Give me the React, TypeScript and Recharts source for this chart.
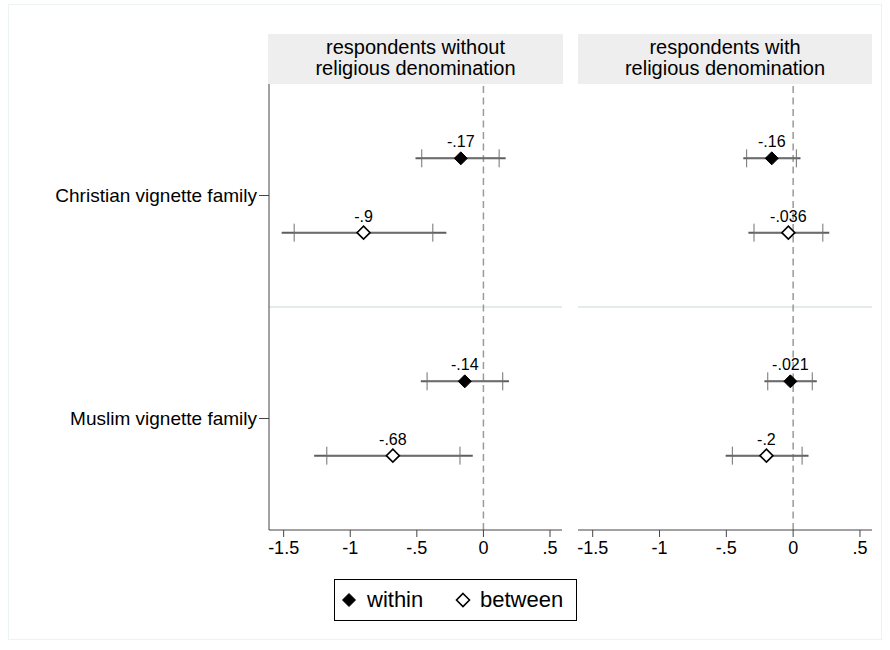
import React from 'react';
import { ScatterChart, Scatter, XAxis, YAxis, ErrorBar, ReferenceLine } from 'recharts';

// categories and panels
const categories = ['Christian vignette family', 'Muslim vignette family'];
const panelTitles = [
  ['respondents without', 'religious denomination'],
  ['respondents with', 'religious denomination'],
];
const seriesNames = ['within', 'between'];

const xTicks = [-1.5, -1, -0.5, 0, 0.5];
const xTickLabels = ['-1.5', '-1', '-.5', '0', '.5'];

// panel 1: respondents without religious denomination
const withoutWithinEst = [-0.17, -0.14];
const withoutWithinLabels = ['-.17', '-.14'];
const withoutWithinLo95 = [-0.51, -0.47];
const withoutWithinHi95 = [0.167, 0.192];
const withoutWithinLo90 = [-0.463, -0.423];
const withoutWithinHi90 = [0.118, 0.145];

const withoutBetweenEst = [-0.9, -0.68];
const withoutBetweenLabels = ['-.9', '-.68'];
const withoutBetweenLo95 = [-1.515, -1.271];
const withoutBetweenHi95 = [-0.278, -0.08];
const withoutBetweenLo90 = [-1.421, -1.176];
const withoutBetweenHi90 = [-0.38, -0.176];

// panel 2: respondents with religious denomination
const withWithinEst = [-0.16, -0.021];
const withWithinLabels = ['-.16', '-.021'];
const withWithinLo95 = [-0.373, -0.215];
const withWithinHi95 = [0.055, 0.177];
const withWithinLo90 = [-0.348, -0.19];
const withWithinHi90 = [0.024, 0.143];

const withBetweenEst = [-0.036, -0.2];
const withBetweenLabels = ['-.036', '-.2'];
const withBetweenLo95 = [-0.335, -0.505];
const withBetweenHi95 = [0.27, 0.115];
const withBetweenLo90 = [-0.293, -0.455];
const withBetweenHi90 = [0.222, 0.067];

const FONT = '"Liberation Sans", Arial, Helvetica, sans-serif';
const X_DOMAIN = [-1.61, 0.59];
const Y_MAX = categories.length * 3;
const yTicks = categories.map((_, i) => i * 3 + 1.5);

const buildRows = (
  est: number[],
  labels: string[],
  lo95: number[],
  hi95: number[],
  lo90: number[],
  hi90: number[],
  seriesIndex: number
) =>
  est.map((v, i) => ({
    x: v,
    y: i * 3 + 1 + seriesIndex,
    label: labels[i],
    ci95: [v - lo95[i], hi95[i] - v],
    ci90: [v - lo90[i], hi90[i] - v],
  }));

const panels = [
  {
    title: panelTitles[0],
    within: buildRows(withoutWithinEst, withoutWithinLabels, withoutWithinLo95, withoutWithinHi95, withoutWithinLo90, withoutWithinHi90, 0),
    between: buildRows(withoutBetweenEst, withoutBetweenLabels, withoutBetweenLo95, withoutBetweenHi95, withoutBetweenLo90, withoutBetweenHi90, 1),
  },
  {
    title: panelTitles[1],
    within: buildRows(withWithinEst, withWithinLabels, withWithinLo95, withWithinHi95, withWithinLo90, withWithinHi90, 0),
    between: buildRows(withBetweenEst, withBetweenLabels, withBetweenLo95, withBetweenHi95, withBetweenLo90, withBetweenHi90, 1),
  },
];

const renderDiamond = (filled: boolean) => (props: any) => {
  const { cx, cy, payload } = props;
  const r = 6.5;
  return (
    <g>
      <polygon
        points={`${cx},${cy - r} ${cx + r},${cy} ${cx},${cy + r} ${cx - r},${cy}`}
        fill={filled ? '#000' : '#fff'}
        stroke="#000"
        strokeWidth={filled ? 1 : 1.6}
      />
      <text x={cx} y={cy - 11} textAnchor="middle" fontSize={16} fill="#000" fontFamily={FONT}>
        {payload.label}
      </text>
    </g>
  );
};

function Panel({ data, showYAxis }: { data: typeof panels[0]; showYAxis: boolean }) {
  return (
    <ScatterChart
      width={showYAxis ? 570 : 310}
      height={560}
      margin={{ top: 84, right: 8, bottom: 0, left: showYAxis ? 0 : 8 }}
    >
      <XAxis
        type="number"
        dataKey="x"
        domain={X_DOMAIN}
        allowDataOverflow
        ticks={xTicks}
        interval={0}
        tickFormatter={(v: number) => xTickLabels[xTicks.indexOf(v)]}
        height={30}
        tickSize={7}
        tickMargin={4}
        axisLine={{ stroke: '#444' }}
        tickLine={{ stroke: '#444' }}
        tick={{ fill: '#000', fontSize: 18 }}
      />
      <YAxis
        type="number"
        dataKey="y"
        domain={[0, Y_MAX]}
        reversed
        ticks={yTicks}
        interval={0}
        hide={!showYAxis}
        width={269}
        tickFormatter={(v: number) => categories[Math.round((v - 1.5) / 3)]}
        tickSize={10}
        tickMargin={2}
        axisLine={{ stroke: '#444' }}
        tickLine={{ stroke: '#444' }}
        tick={{ fill: '#000', fontSize: 19 }}
      />
      <ReferenceLine y={3} stroke="#e3ebed" strokeWidth={2} />
      <ReferenceLine x={0} stroke="#9a9a9a" strokeDasharray="7 4.5" strokeWidth={1.5} />
      <Scatter name={seriesNames[0]} data={data.within} shape={renderDiamond(true)} isAnimationActive={false}>
        <ErrorBar dataKey="ci95" direction="x" width={0} stroke="#5e5e5e" strokeWidth={2} isAnimationActive={false} />
        <ErrorBar dataKey="ci90" direction="x" width={9} stroke="#707070" strokeWidth={1} isAnimationActive={false} />
      </Scatter>
      <Scatter name={seriesNames[1]} data={data.between} shape={renderDiamond(false)} isAnimationActive={false}>
        <ErrorBar dataKey="ci95" direction="x" width={0} stroke="#5e5e5e" strokeWidth={2} isAnimationActive={false} />
        <ErrorBar dataKey="ci90" direction="x" width={9} stroke="#707070" strokeWidth={1} isAnimationActive={false} />
      </Scatter>
    </ScatterChart>
  );
}

function Header({ lines, left, width }: { lines: string[]; left: number; width: number }) {
  return (
    <div
      style={{
        position: 'absolute',
        left,
        top: 34,
        width,
        height: 50,
        boxSizing: 'border-box',
        paddingBottom: 3,
        background: '#eeeeee',
        display: 'flex',
        flexDirection: 'column',
        alignItems: 'center',
        justifyContent: 'center',
        fontSize: 20,
        lineHeight: '21px',
        color: '#000',
      }}
    >
      {lines.map((l) => (
        <div key={l}>{l}</div>
      ))}
    </div>
  );
}

function Diamond({ filled }: { filled: boolean }) {
  return (
    <svg width={16} height={16} style={{ display: 'block' }}>
      <polygon points="8,1.5 14.5,8 8,14.5 1.5,8" fill={filled ? '#000' : '#fff'} stroke="#000" strokeWidth={filled ? 1 : 1.6} />
    </svg>
  );
}

export default function App() {
  return (
    <div
      style={{
        position: 'absolute',
        left: 0,
        top: 0,
        width: 890,
        height: 650,
        background: '#fff',
        fontFamily: FONT,
        overflow: 'hidden',
      }}
    >
      <div
        style={{
          position: 'absolute',
          left: 8,
          top: 4,
          width: 874,
          height: 636,
          border: '1px solid #edf2f3',
          boxSizing: 'border-box',
        }}
      />
      <Header lines={panels[0].title} left={268} width={295} />
      <Header lines={panels[1].title} left={578} width={294} />
      <div style={{ position: 'absolute', left: 0, top: 0 }}>
        <Panel data={panels[0]} showYAxis />
      </div>
      <div style={{ position: 'absolute', left: 570, top: 0 }}>
        <Panel data={panels[1]} showYAxis={false} />
      </div>
      <div
        style={{
          position: 'absolute',
          left: 334,
          top: 579,
          width: 243,
          height: 42,
          border: '1.5px solid #000',
          boxSizing: 'border-box',
          background: '#fff',
          fontSize: 22,
          color: '#000',
        }}
      >
        <div style={{ position: 'absolute', left: 6, top: 11.5 }}>
          <Diamond filled />
        </div>
        <div style={{ position: 'absolute', left: 32, top: 6, lineHeight: '28px' }}>{seriesNames[0]}</div>
        <div style={{ position: 'absolute', left: 120, top: 11.5 }}>
          <Diamond filled={false} />
        </div>
        <div style={{ position: 'absolute', left: 145, top: 6, lineHeight: '28px' }}>{seriesNames[1]}</div>
      </div>
    </div>
  );
}
